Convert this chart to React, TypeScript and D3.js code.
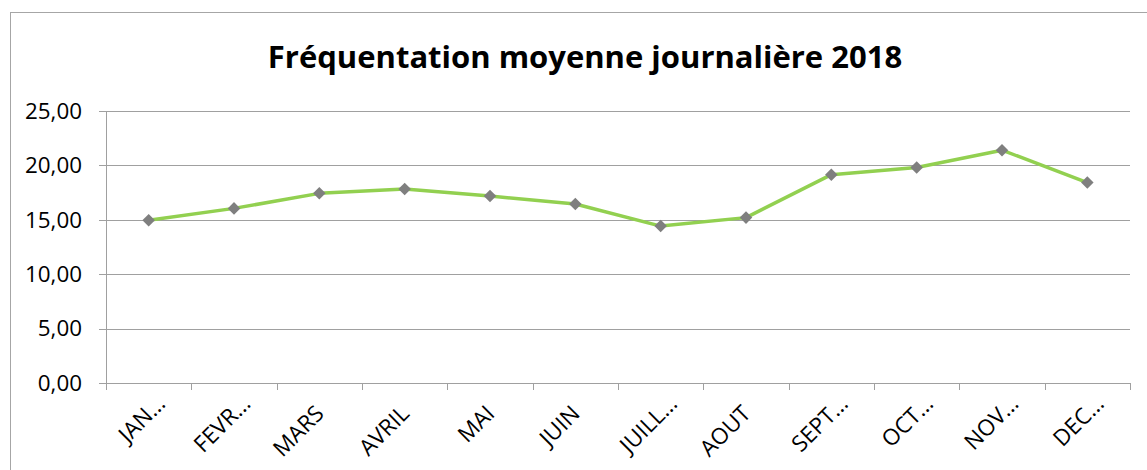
import React from "react";
import * as d3 from "d3";

// values
const months = ["JAN…", "FEVR…", "MARS", "AVRIL", "MAI", "JUIN", "JUILL…", "AOUT", "SEPT…", "OCT…", "NOV…", "DEC…"];
const frequentation = [14.95, 16.05, 17.43, 17.83, 17.18, 16.45, 14.42, 15.2, 19.15, 19.8, 21.4, 18.42];
const yTicks = [0, 5, 10, 15, 20, 25];
const title = "Fréquentation moyenne journalière 2018";

const width = 1147, height = 470;
const margin = { top: 111, right: 17, bottom: 87, left: 106 };

const App: React.FC = () => {
  const x = d3.scaleBand().domain(months).range([margin.left, width - margin.right]);
  const y = d3.scaleLinear().domain([0, 25]).range([height - margin.bottom, margin.top]);
  const cx = (m: string) => (x(m) ?? 0) + x.bandwidth() / 2;

  const line = d3.line<number>()
    .x((_, i) => cx(months[i]))
    .y(d => y(d));

  const fmt = (v: number) => v.toFixed(2).replace(".", ",");
  const grid = "#A0A0A0";
  const font = "'Open Sans', 'DejaVu Sans', sans-serif";

  return (
    <svg width={width} height={height} style={{ position: "fixed", left: 0, top: 0, background: "#fff" }}
      fontFamily={font}>
      <rect x={10.5} y={12.5} width={1160} height={480} fill="#fff" stroke="#A6A6A6" strokeWidth={1} />
      <text x={585} y={68} textAnchor="middle" fontSize={31} fontWeight="bold" fill="#000">{title}</text>

      {yTicks.map(t => (
        <g key={t}>
          <line x1={margin.left - 7} x2={width - margin.right} y1={Math.round(y(t)) + 0.5} y2={Math.round(y(t)) + 0.5}
            stroke={grid} strokeWidth={1} />
          <text x={82} y={y(t)} dy="0.35em" textAnchor="end" fontSize={22.4} fill="#000">{fmt(t)}</text>
        </g>
      ))}
      <line x1={margin.left + 0.5} x2={margin.left + 0.5} y1={margin.top} y2={y(0)} stroke={grid} />
      {months.concat(["end"]).map((m, i) => {
        const xx = Math.round(margin.left + i * x.bandwidth()) + 0.5;
        return <line key={m} x1={xx} x2={xx} y1={y(0)} y2={y(0) + 7} stroke={grid} />;
      })}
      {months.map(m => {
        const cut = m.endsWith("…");
        const tx = cx(m) + (cut ? 18 : 6);
        const ty = y(0) + (cut ? 22 : 32);
        return (
          <text key={m} transform={`translate(${tx},${ty}) rotate(-45)`} textAnchor="end"
            fontSize={22.5} fill="#000">{m}</text>
        );
      })}

      <path d={line(frequentation) ?? ""} fill="none" stroke="#92D050" strokeWidth={3.5} strokeLinejoin="round" />
      {frequentation.map((v, i) => (
        <path key={i} d={d3.symbol(d3.symbolDiamond2, 100)() ?? ""}
          transform={`translate(${cx(months[i])},${y(v)})`} fill="#7F7F7F" />
      ))}
    </svg>
  );
};

export default App;
